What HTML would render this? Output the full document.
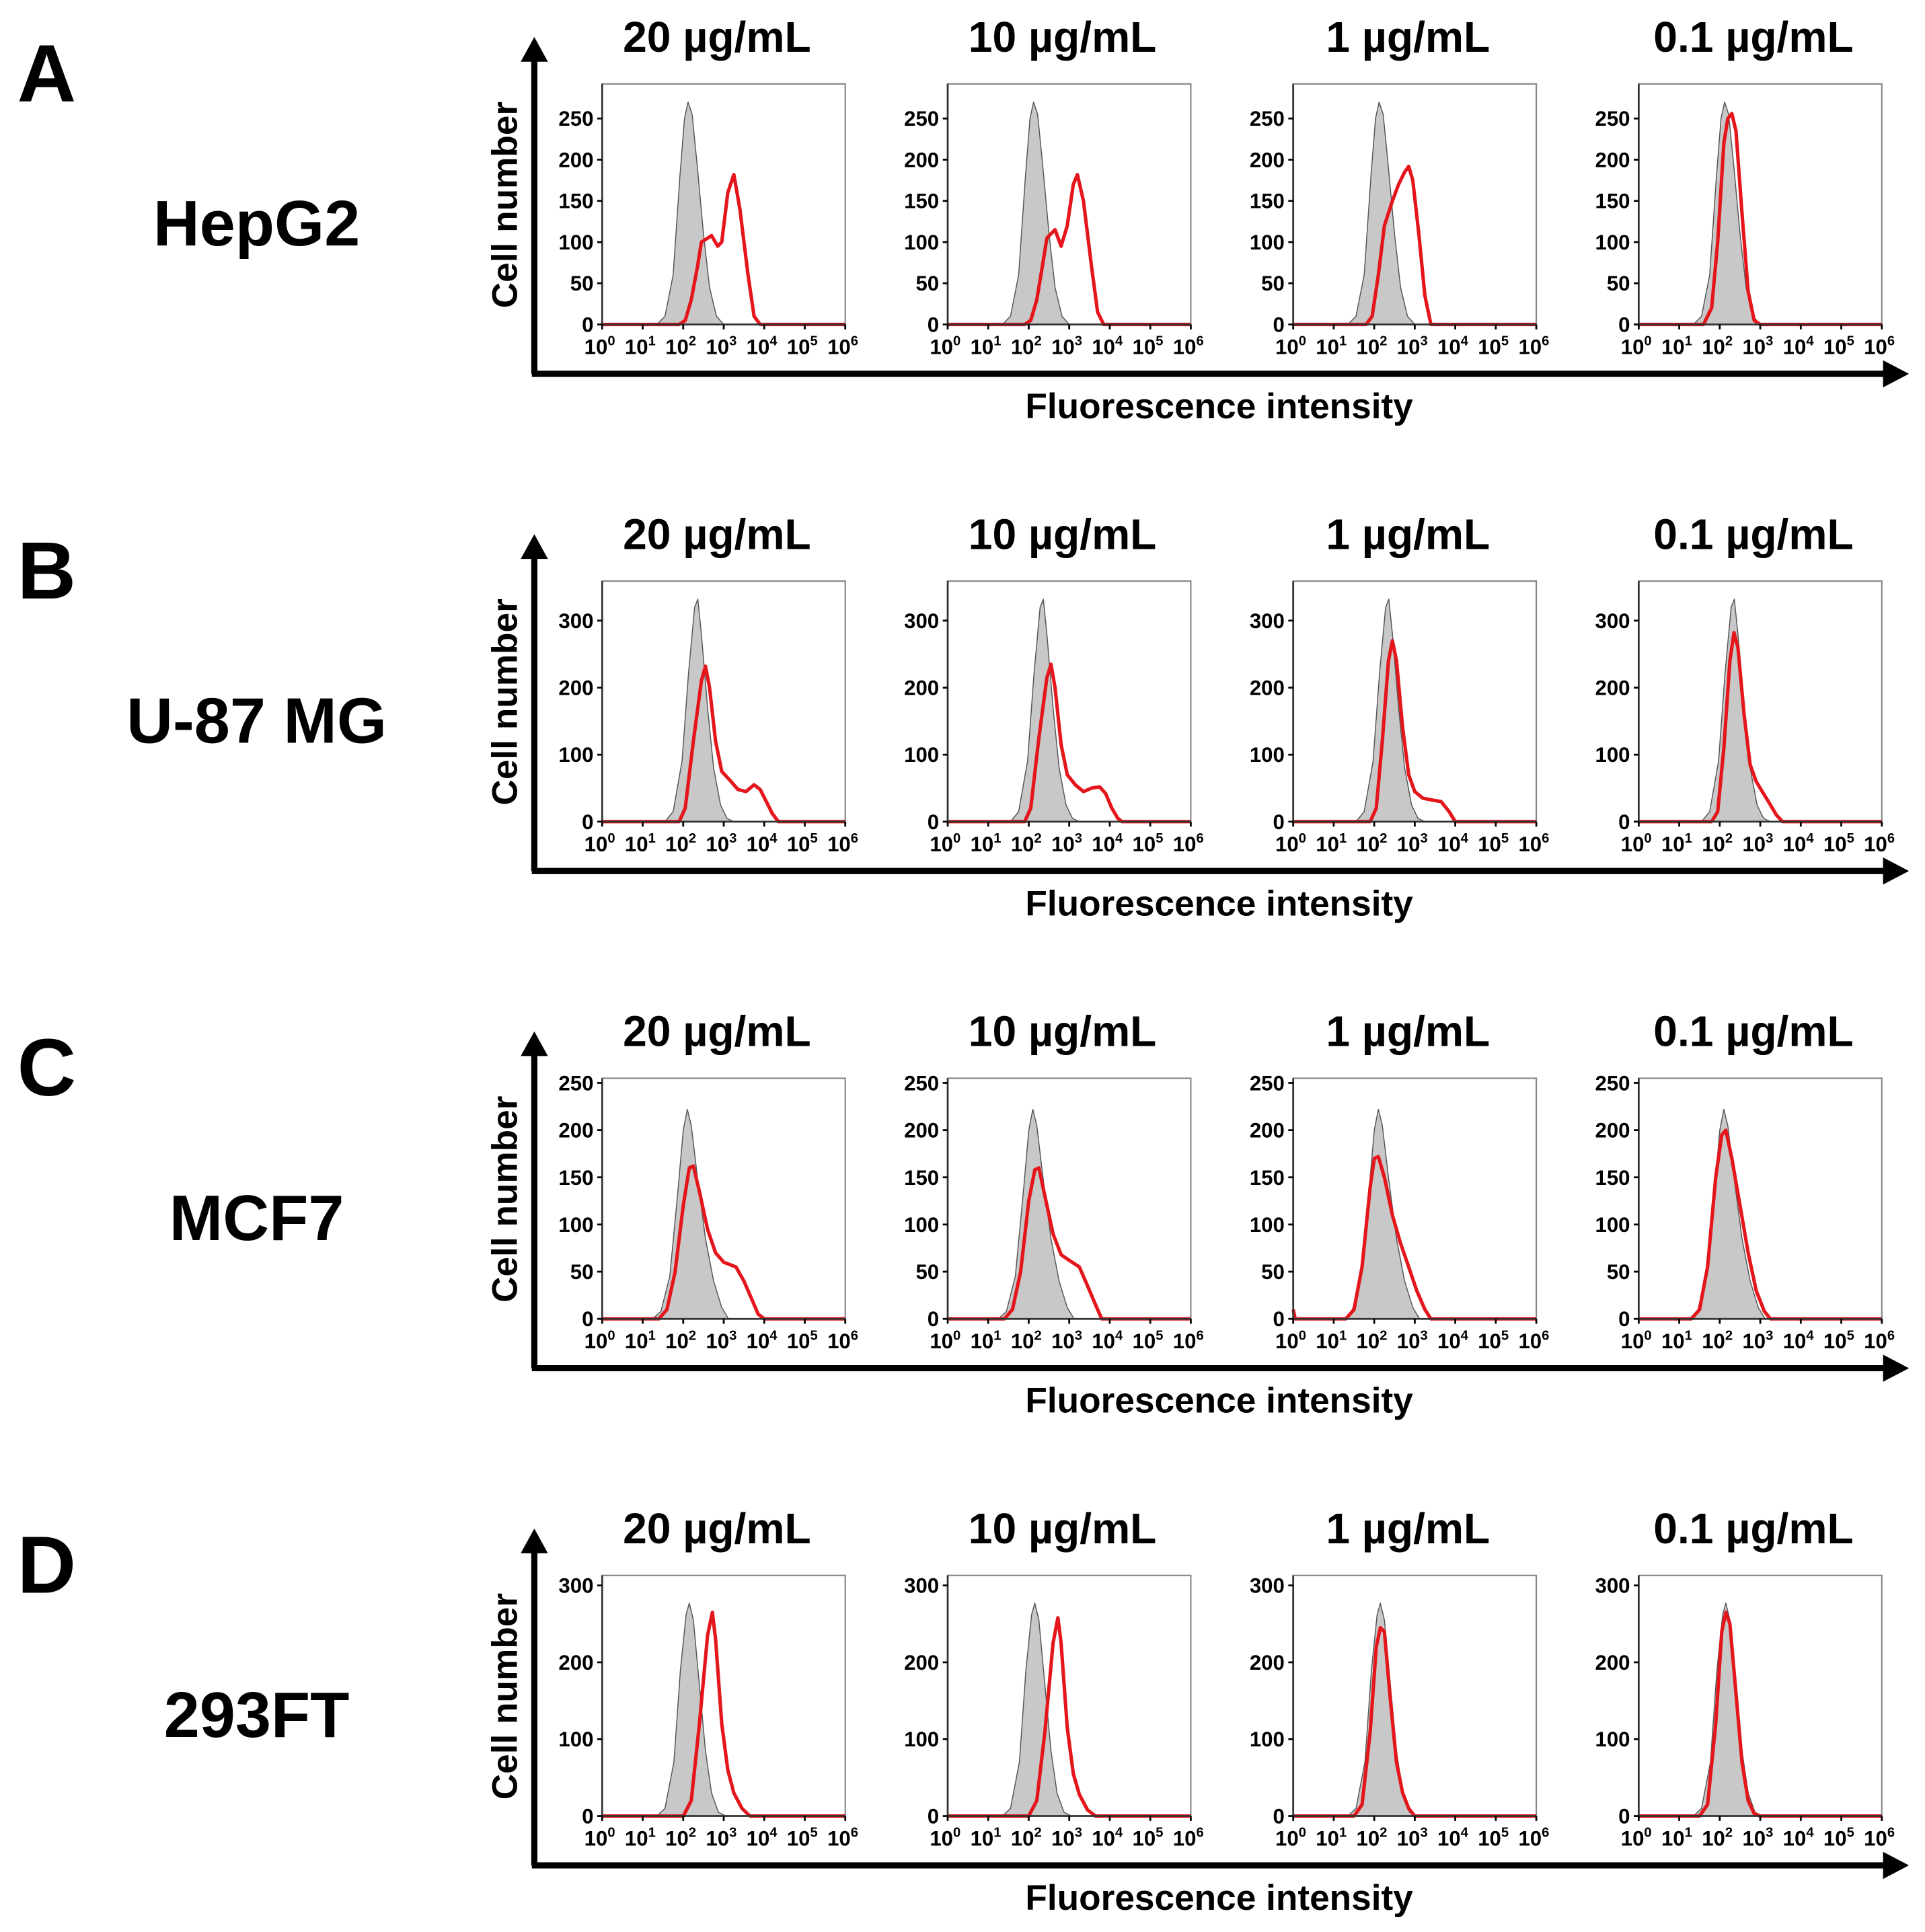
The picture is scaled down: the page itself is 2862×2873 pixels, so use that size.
<!DOCTYPE html>
<html><head><meta charset="utf-8">
<style>
html,body{margin:0;padding:0;background:#fff;}
svg{display:block;}
text{font-family:"Liberation Sans",Arial,sans-serif;font-weight:bold;fill:#000;}
</style></head>
<body>
<svg id="fig" width="2862" height="2873" viewBox="0 0 1560 1566" xmlns="http://www.w3.org/2000/svg"></svg>
<script>
// ---- data ----
const rowLetters = ["A","B","C","D"];
const cellLines = ["HepG2","U-87 MG","MCF7","293FT"];
const concentrations = ["20 µg/mL","10 µg/mL","1 µg/mL","0.1 µg/mL"];
const yTicksA = [0,50,100,150,200,250];
const yTicksB = [0,100,200,300];
const yTicksC = [0,50,100,150,200,250];
const yTicksD = [0,100,200,300];
const yMaxes = [292,359,255,313];
const xTickExps = [0,1,2,3,4,5,6];

// control (grey) histograms: [log10 intensity, count]
const grayA = [[1.35,0],[1.55,10],[1.75,60],[1.92,180],[2.03,250],[2.12,270],[2.22,255],[2.35,190],[2.5,110],[2.65,45],[2.82,10],[3.0,0]];
const grayB = [[1.55,0],[1.75,15],[1.97,90],[2.13,220],[2.28,320],[2.36,332],[2.45,280],[2.6,170],[2.75,80],[2.92,25],[3.08,5],[3.25,0]];
const grayC = [[1.25,0],[1.45,8],[1.67,45],[1.88,140],[2.0,200],[2.1,222],[2.2,205],[2.35,150],[2.55,85],[2.75,40],[2.95,12],[3.12,0]];
const grayD = [[1.35,0],[1.55,10],[1.77,70],[1.93,190],[2.07,262],[2.15,277],[2.25,255],[2.4,170],[2.55,85],[2.7,30],[2.87,5],[3.05,0]];

// treated (red) histograms
const redA20 = [[0,0],[1.9,0],[2.05,5],[2.2,30],[2.35,70],[2.45,100],[2.55,103],[2.7,108],[2.85,95],[2.95,100],[3.1,160],[3.25,182],[3.4,140],[3.6,60],[3.75,10],[3.9,0],[6,0]];
const redA10 = [[0,0],[1.9,0],[2.05,5],[2.2,30],[2.35,75],[2.45,105],[2.55,110],[2.65,115],[2.8,95],[2.95,120],[3.1,170],[3.2,182],[3.35,150],[3.55,70],[3.7,15],[3.85,0],[6,0]];
const redA1 = [[0,0],[1.8,0],[1.95,10],[2.1,60],[2.25,120],[2.45,150],[2.6,170],[2.75,185],[2.85,192],[2.95,175],[3.1,110],[3.25,35],[3.4,0],[6,0]];
const redA01 = [[0,0],[1.6,0],[1.8,20],[1.95,100],[2.1,220],[2.2,250],[2.3,256],[2.4,235],[2.55,135],[2.7,40],[2.85,5],[3.0,0],[6,0]];
const redB20 = [[0,0],[1.9,0],[2.05,20],[2.25,120],[2.45,210],[2.55,232],[2.65,200],[2.8,120],[2.95,75],[3.15,62],[3.35,48],[3.55,45],[3.75,55],[3.9,48],[4.05,30],[4.2,12],[4.35,0],[6,0]];
const redB10 = [[0,0],[1.9,0],[2.05,20],[2.25,125],[2.45,215],[2.55,235],[2.65,200],[2.8,115],[2.95,70],[3.15,55],[3.35,45],[3.55,50],[3.75,52],[3.9,42],[4.05,20],[4.2,5],[4.3,0],[6,0]];
const redB1 = [[0,0],[1.9,0],[2.05,20],[2.2,120],[2.35,240],[2.45,270],[2.55,240],[2.7,140],[2.85,70],[3.0,45],[3.2,35],[3.45,32],[3.65,30],[3.85,15],[4.0,0],[6,0]];
const redB01 = [[0,0],[1.8,0],[1.95,15],[2.1,110],[2.25,240],[2.35,282],[2.45,260],[2.6,160],[2.75,85],[2.9,60],[3.05,45],[3.2,30],[3.4,10],[3.55,0],[6,0]];
const redC20 = [[0,0],[1.4,0],[1.6,10],[1.8,50],[2.0,120],[2.15,160],[2.25,162],[2.4,135],[2.6,95],[2.8,70],[3.0,60],[3.3,55],[3.5,40],[3.7,20],[3.85,5],[4.0,0],[6,0]];
const redC10 = [[0,0],[1.4,0],[1.6,10],[1.8,50],[2.0,125],[2.15,158],[2.25,160],[2.4,130],[2.6,90],[2.8,68],[3.0,62],[3.25,55],[3.45,35],[3.65,15],[3.8,0],[6,0]];
const redC1 = [[0,10],[0.05,0],[1.3,0],[1.5,10],[1.7,55],[1.9,140],[2.0,170],[2.1,172],[2.25,150],[2.45,110],[2.65,80],[2.85,55],[3.05,30],[3.25,10],[3.4,0],[6,0]];
const redC01 = [[0,0],[1.3,0],[1.5,10],[1.7,55],[1.9,150],[2.05,195],[2.15,200],[2.3,170],[2.5,120],[2.7,70],[2.9,30],[3.1,8],[3.25,0],[6,0]];
const redD20 = [[0,0],[2.0,0],[2.2,20],[2.4,120],[2.6,235],[2.72,265],[2.8,230],[2.95,120],[3.1,60],[3.25,30],[3.45,10],[3.65,0],[6,0]];
const redD10 = [[0,0],[2.0,0],[2.2,20],[2.4,110],[2.6,225],[2.72,258],[2.8,225],[2.95,115],[3.1,55],[3.25,28],[3.45,8],[3.65,0],[6,0]];
const redD1 = [[0,0],[1.5,0],[1.7,15],[1.9,110],[2.05,220],[2.15,245],[2.25,240],[2.4,150],[2.55,70],[2.7,30],[2.85,10],[3.0,0],[6,0]];
const redD01 = [[0,0],[1.5,0],[1.7,15],[1.9,120],[2.05,240],[2.15,265],[2.25,250],[2.4,160],[2.55,70],[2.7,20],[2.85,3],[3.0,0],[6,0]];

const yTicksRows = [yTicksA,yTicksB,yTicksC,yTicksD];
const grayRows = [grayA,grayB,grayC,grayD];
const redRows = [[redA20,redA10,redA1,redA01],[redB20,redB10,redB1,redB01],[redC20,redC10,redC1,redC01],[redD20,redD10,redD1,redD01]];

// ---- drawing ----
const NS = "http://www.w3.org/2000/svg";
const svg = document.getElementById("fig");
function mk(tag, attrs, parent){
  const e = document.createElementNS(NS, tag);
  for (const k in attrs) e.setAttribute(k, attrs[k]);
  (parent||svg).appendChild(e);
  return e;
}
const rowOffset = 403;
const panelX = [488,768,1048,1328];
const panelW = 197, panelTop = 68, panelBot = 263;

for (let r=0;r<4;r++){
  const oy = r*rowOffset;
  const g = mk("g",{});
  
  
  let t = mk("text",{x:14,y:oy+82,"font-size":66},g);
  t.textContent = rowLetters[r];
  
  
  t = mk("text",{x:208,y:oy+199,"font-size":52,"text-anchor":"middle"},g);
  t.textContent = cellLines[r];
  
  
  // big axes
  let a = mk("line",{x1:433,y1:oy+48,x2:433,y2:oy+303,stroke:"#000","stroke-width":5},g);
  
  
  mk("polygon",{points:`422,${oy+50} 444,${oy+50} 433,${oy+30}`,fill:"#000"},g);
  a = mk("line",{x1:431,y1:oy+303,x2:1530,y2:oy+303,stroke:"#000","stroke-width":5},g);
  
  
  mk("polygon",{points:`1526,${oy+292} 1526,${oy+314} 1547,${oy+303}`,fill:"#000"},g);
  t = mk("text",{x:988,y:oy+339,"font-size":29,"text-anchor":"middle"},g);
  t.textContent = "Fluorescence intensity";
  
  
  t = mk("text",{x:0,y:0,"font-size":29,"text-anchor":"middle",transform:`translate(419,${oy+166}) rotate(-90)`},g);
  t.textContent = "Cell number";
  
  

  for (let c=0;c<4;c++){
    const x0 = panelX[c];
    const top = oy+panelTop, bot = oy+panelBot;
    const ymax = yMaxes[r];
    const X = v => x0 + v/6*panelW;
    const Y = v => bot - v/ymax*(bot-top);
    const pg = mk("g",{},g);
    
    
    t = mk("text",{x:x0+93,y:oy+42,"font-size":35,"text-anchor":"middle"},pg);
    t.textContent = concentrations[c];
    
    
    const box = mk("rect",{x:x0,y:top,width:panelW,height:bot-top,fill:"none",stroke:"#888","stroke-width":1.2},pg);
    
    
    // gray
    const gd = grayRows[r];
    let d = `M${X(gd[0][0])},${Y(0)} ` + gd.map(p=>`L${X(p[0]).toFixed(1)},${Y(p[1]).toFixed(1)}`).join(" ") + ` L${X(gd[gd.length-1][0])},${Y(0)} Z`;
    const gp = mk("path",{d:d,fill:"#c8c8c8",stroke:"#555","stroke-width":0.8,"stroke-linejoin":"round"},pg);
    
    
    const rd = redRows[r][c];
    d = "M" + rd.map(p=>`${X(p[0]).toFixed(1)},${Y(p[1]).toFixed(1)}`).join(" L");
    const rp = mk("path",{d:d,fill:"none",stroke:"#e4161b","stroke-width":2.8,"stroke-linejoin":"round"},pg);
    
    
    // left axis
    mk("line",{x1:x0,y1:top,x2:x0,y2:bot,stroke:"#333","stroke-width":1.5},pg);
    mk("line",{x1:x0,y1:bot,x2:x0+panelW,y2:bot,stroke:"#333","stroke-width":1.5},pg);
    yTicksRows[r].forEach(v=>{
      mk("line",{x1:x0-4,y1:Y(v),x2:x0,y2:Y(v),stroke:"#000","stroke-width":1.5},pg);
      const tl = mk("text",{x:x0-7,y:Y(v)+6,"font-size":17,"text-anchor":"end"},pg);
      tl.textContent = v;
      
      
    });
    xTickExps.forEach(e=>{
      mk("line",{x1:X(e),y1:bot,x2:X(e),y2:bot+4,stroke:"#000","stroke-width":1.5},pg);
      const tl = mk("text",{x:X(e)-2,y:bot+24,"font-size":17,"text-anchor":"middle"},pg);
      
      
      const b = mk("tspan",{},tl); b.textContent = "10";
      const s = mk("tspan",{"font-size":11,dy:-7},tl); s.textContent = e;
    });
  }
}
</script>
</body></html>
